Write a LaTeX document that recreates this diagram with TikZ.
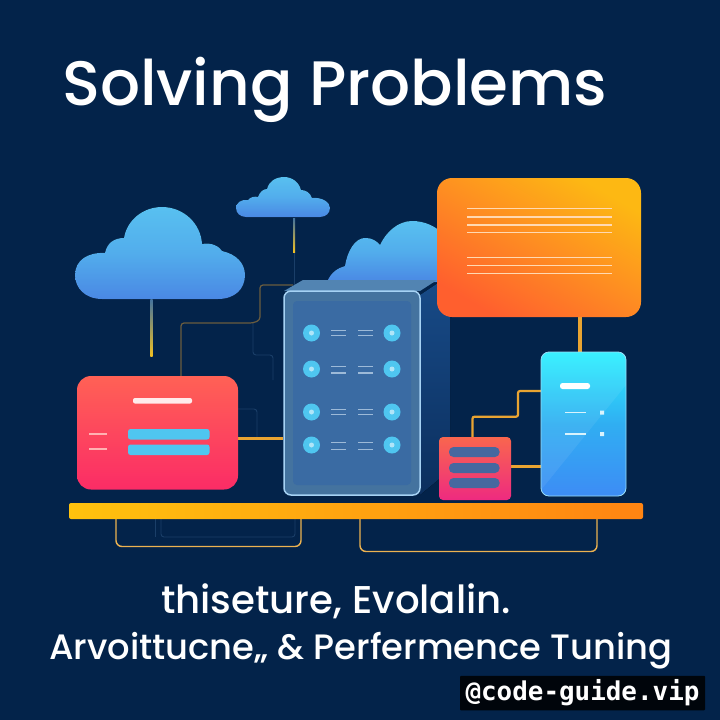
\documentclass[tikz,border=0pt]{standalone}
\usepackage{fontspec}
\setmainfont{Poppins}[UprightFont=* Medium]
\newfontfamily\monob{DejaVu Sans Mono}
\usetikzlibrary{calc}
\definecolor{navy}{HTML}{03234A}
\definecolor{amber}{HTML}{E9A432}
\definecolor{faint}{HTML}{1A3E68}
\definecolor{icon}{HTML}{4FC6F0}
\definecolor{dash}{HTML}{9DBAD8}
\definecolor{cloudTop}{HTML}{58C0F0}
\definecolor{cloudMid}{HTML}{52ADEC}
\definecolor{cloudBottom}{HTML}{4A88E4}
\definecolor{towerEdge}{HTML}{44739F}
\definecolor{towerFace}{HTML}{3A6BA3}
\definecolor{towerRim}{HTML}{A6D2F4}
\definecolor{towerRoof}{HTML}{5284B2}
\definecolor{towerSideTop}{HTML}{184B88}
\definecolor{towerSideLow}{HTML}{0B2F5E}
\definecolor{barBlue}{HTML}{46689F}
\tikzset{
  x=1pt,y=-1pt,
  wire/.style={draw=amber,line width=3.8pt},
  stair/.style={draw=amber,line width=2.2pt,rounded corners=2pt},
  dim wire/.style={draw=#1,line width=1.2pt,rounded corners=3pt},
  bracket/.style={draw=amber!85!white,line width=1.4pt,rounded corners=6pt},
  trace/.style={draw=faint,line width=.9pt,rounded corners=3pt},
  stripe/.style={draw=#1,line width=1.5pt},
  cloudfill/.style={top color=cloudTop,bottom color=cloudBottom,middle color=cloudMid},
  title/.style={text=white,font=\fontsize{62.8}{70}\selectfont,anchor=base west,inner sep=0},
  caption/.style={text=white,anchor=base west,inner sep=0},
  dot/.style={circle,fill=icon,draw=none,minimum size=17pt,inner sep=0},
  inner dot/.style={circle,fill=white!55!icon,draw=none,minimum size=5pt,inner sep=0},
}
\begin{document}
\begin{tikzpicture}
\useasboundingbox (0,0) rectangle (720,720);
\fill[navy] (0,0) rectangle (720,720);

% title
\node[title] (headline) at (62,105) {Solving Problems};

% faint circuit traces behind the diagram
\draw[trace] (294,250) -- (294,290);
\draw[trace] (253,323) -- (253,355) -- (273,355) -- (273,380);
\draw[trace] (181,380) -- (181,420);
\draw[trace] (238,409) -- (257,409) -- (257,437);
\draw[trace] (161,518) -- (161,537) -- (295,537) -- (295,518);
\draw[trace] (155,518) -- (155,537);

% clouds
\fill[cloudfill]
  (102,299) .. controls (85,299) and (75,288) .. (75,275)
  .. controls (75,260) and (88,252) .. (105,253)
  .. controls (107,243) and (114,238) .. (124,238)
  .. controls (127,220) and (143,207) .. (162,207)
  .. controls (184,207) and (201,224) .. (202,244)
  .. controls (212,242) and (220,247) .. (222,251)
  .. controls (236,254) and (245,263) .. (245,275)
  .. controls (245,289) and (235,299) .. (218,299) -- cycle;
\fill[cloudfill]
  (246,217) .. controls (240,217) and (236,213) .. (236,208)
  .. controls (236,203) and (241,199) .. (248,200)
  .. controls (250,197) and (255,196) .. (258,197)
  .. controls (260,191) and (264,189) .. (267,189)
  .. controls (269,181) and (276,177) .. (284,177)
  .. controls (292,177) and (299,182) .. (301,190)
  .. controls (305,190) and (310,192) .. (312,198)
  .. controls (322,197) and (330,202) .. (330,208)
  .. controls (330,213) and (326,217) .. (320,217) -- cycle;
\fill[cloudfill]
  (327,282) .. controls (331,272) and (338,268) .. (345,266)
  .. controls (347,252) and (355,237) .. (366,238)
  .. controls (372,238) and (377,241) .. (380,245)
  .. controls (386,232) and (398,221) .. (412,221)
  .. controls (425,221) and (435,226) .. (445,235)
  -- (445,282) -- cycle;

% stems under the clouds
\coordinate (stemA) at (151.5,299);
\coordinate (stemAend) at (151.5,356);
\coordinate (stemB) at (294,218);
\coordinate (stemBend) at (294,252);
\shade[top color=towerEdge,bottom color=amber!70!yellow] ($(stemA)+(-1.2,0)$) rectangle ($(stemAend)+(1.2,0)$);
\shade[top color=towerEdge,bottom color=amber!70!yellow] ($(stemB)+(-1,0)$) rectangle ($(stemBend)+(1,0)$);

% thin amber traces around the tower
\draw[dim wire=amber!45!navy] (181,380) -- (181,323) -- (253,323) -- (260,320) -- (260,285) -- (293,285);

% tower: side, roof and front
\fill[top color=towerSideTop,bottom color=towerSideLow] (420,295) -- (450,275) -- (450,470) -- (420,495) -- cycle;
\fill[towerRoof] (284,291) -- (303,280) -- (437,280) -- (420,291) -- cycle;
\node[draw=towerRim,line width=1.5pt,fill=towerEdge,rounded corners=7pt,
  minimum width=136pt,minimum height=204pt,inner sep=0] (tower) at (352,393) {};
\node[fill=towerFace,rounded corners=4pt,minimum width=118pt,minimum height=184pt,inner sep=0] at (352,393) {};

% connector into the tower from the red card
\coordinate (redR) at (238,438.5);
\draw[wire] (redR) -- (tower.west |- redR);

% server rows: icon, dashes, dashes, icon
\foreach \rowy/\dy in {333/5, 369/6.5, 412/5, 445/7}{
  \node[dot] at (311.5,\rowy) {};
  \node[dot] at (392,\rowy) {};
  \node[inner dot] at (311.5,\rowy) {};
  \node[inner dot] at (392,\rowy) {};
  \draw[stripe=dash,line width=1.2pt]
    (331,\rowy-2.5) -- (346,\rowy-2.5) (331,\rowy-2.5+\dy) -- (346,\rowy-2.5+\dy)
    (358,\rowy-2.5) -- (373,\rowy-2.5) (358,\rowy-2.5+\dy) -- (373,\rowy-2.5+\dy);
}

% orange panel
\draw[wire] (580,316) -- (580,352);
\definecolor{panelHi}{HTML}{FDB813}
\definecolor{panelLo}{HTML}{FF5F2E}
\definecolor{panelMid}{HTML}{FE8C22}
\shade[rounded corners=15pt,top color=panelHi,bottom color=panelLo,middle color=panelMid,shading angle=-30]
  (437,178) rectangle (641,317);
\foreach \ly in {208.7,217,225,232.3, 257.7,265.7,273.7}
  \draw[stripe=white!70!orange] (467,\ly) -- (612,\ly);

% phone-like card
\draw[wire] (542,466.5) -- (510,466.5);
\draw[stair] (472.5,437) -- (472.5,416.7) -- (518,416.7) -- (518,391) -- (542,391);
\definecolor{phoneTop}{HTML}{2CF0FF}
\definecolor{phoneMid}{HTML}{30AEF2}
\definecolor{phoneLow}{HTML}{3D8CF5}
\shade[rounded corners=8pt,top color=phoneTop,bottom color=phoneLow,middle color=phoneMid]
  (541,352) rectangle (626,496);
\begin{scope}
  \clip[rounded corners=8pt] (541,352) rectangle (626,496);
  \fill[white,opacity=.07] (541,352) -- (626,352) -- (626,385) -- (541,490) -- cycle;
\end{scope}
\draw[rounded corners=8pt,draw=white!60!cyan,line width=.8pt] (541,352) rectangle (626,496);
\fill[white,rounded corners=2.5pt] (560,383) rectangle (590,389);
\draw[stripe=white!85!cyan,line width=1.8pt] (565,412.5) -- (586,412.5) (565,434) -- (586,434);
\fill[white!85!cyan] (600,410.5) rectangle (604,414.5) (600,432) rectangle (604,436);

% small red stack
\definecolor{stackTop}{HTML}{F9664E}
\definecolor{stackLow}{HTML}{EE2A80}
\shade[rounded corners=4pt,top color=stackTop,bottom color=stackLow]
  (439,437) rectangle (511,500);
\foreach \sy in {447,463,478}
  \fill[barBlue,rounded corners=4.5pt] (449,\sy) rectangle (499.5,\sy+10);

% red card
\definecolor{cardTop}{HTML}{FF6155}
\definecolor{cardLow}{HTML}{FB2C66}
\shade[rounded corners=14pt,top color=cardTop,bottom color=cardLow]
  (77,376) rectangle (238,489.5);
\fill[white!92!red,rounded corners=2pt] (133,398) rectangle (192,403.5);
\draw[stripe=white!70!red,line width=1.1pt] (89,434) -- (107,434) (89,449) -- (107,449);
\fill[icon,rounded corners=2.5pt] (128,429) rectangle (209.5,439.5);
\fill[icon,rounded corners=2.5pt] (128,444.5) rectangle (209.5,455);

% shelf with its brackets
\draw[bracket] (116,518) -- (116,546.5) -- (301,546.5) -- (301,518);
\draw[bracket] (360,518) -- (360,551.5) -- (597,551.5) -- (597,518);
\definecolor{shelfL}{HTML}{FFC20E}
\definecolor{shelfR}{HTML}{FF8412}
\shade[rounded corners=2pt,left color=shelfL,right color=shelfR]
  (69,503) rectangle (643,519);

% captions
\node[caption,font=\fontsize{38.7}{44}\selectfont] (capA) at (161,613) {thiseture, Evolalin.};
\node[caption,font=\fontsize{35.3}{40}\selectfont] (capB) at (49,659) {Arvoittucne,, \& Perfermence Tuning};

% handle badge
\node[fill=black!85!navy,rounded corners=1pt,text=white,inner sep=0,minimum width=245pt,minimum height=34.5pt,
  font=\monob\bfseries\fontsize{25.9}{28}\selectfont] (badge) at (582.5,693) {@code-guide.vip};
\end{tikzpicture}
\end{document}
